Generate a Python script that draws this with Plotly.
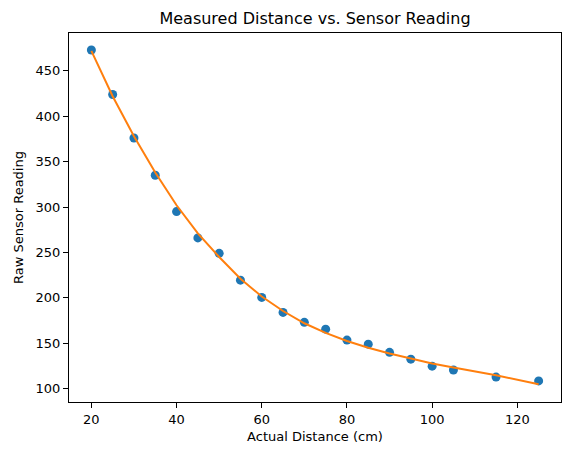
import plotly.graph_objects as go

# measured points
distance_cm = [20, 25, 30, 35, 40, 45, 50, 55, 60, 65, 70, 75, 80, 85, 90, 95, 100, 105, 115, 125]
sensor_raw = [473, 424, 376, 335, 295, 266, 249, 219.5, 200.5, 184, 173, 165.5, 153.5, 149, 140, 132.5, 124.8, 120.5, 112.7, 108.5]

# fitted curve, evaluated at the same distances
fit_raw = [472, 422, 378, 338, 302, 271, 245, 221, 201.5, 185.5, 172, 161.5, 152.5, 145, 138.8, 133.2, 127.8, 123.3, 114.8, 104.8]

font = "DejaVu Sans"

fig = go.Figure()
fig.add_trace(go.Scatter(
    x=distance_cm, y=sensor_raw, mode="markers",
    marker=dict(color="#1f77b4", size=9, line=dict(width=0)),
    showlegend=False,
))
fig.add_trace(go.Scatter(
    x=distance_cm, y=fit_raw, mode="lines",
    line=dict(color="#ff7f0e", width=2),
    showlegend=False,
))

axis_style = dict(
    showgrid=False, zeroline=False,
    showline=True, linecolor="black", linewidth=1, mirror=True,
    ticks="outside", ticklen=5, tickwidth=1, tickcolor="black",
    tickfont=dict(family=font, size=13, color="black"),
)

# page body has an 8px margin, so the figure is a bit smaller than the window
fig.update_layout(
    width=563, height=447,
    margin=dict(l=59, r=9, t=25, b=53),
    paper_bgcolor="white", plot_bgcolor="white",
    font=dict(family=font, color="black"),
    title=dict(
        text="Measured Distance vs. Sensor Reading",
        font=dict(family=font, size=16, color="black"),
        x=0.5, xref="paper", xanchor="center",
        y=1 - 10 / 447, yref="container", yanchor="middle",
    ),
    xaxis=dict(
        range=[14.75, 130.25], tickvals=[20, 40, 60, 80, 100, 120],
        title=dict(text="Actual Distance (cm)", font=dict(family=font, size=13), standoff=6),
        **axis_style,
    ),
    yaxis=dict(
        range=[85.3, 491.7], tickvals=[100, 150, 200, 250, 300, 350, 400, 450],
        title=dict(text="Raw Sensor Reading", font=dict(family=font, size=13), standoff=9),
        **axis_style,
    ),
)

fig.write_html("out.html")
